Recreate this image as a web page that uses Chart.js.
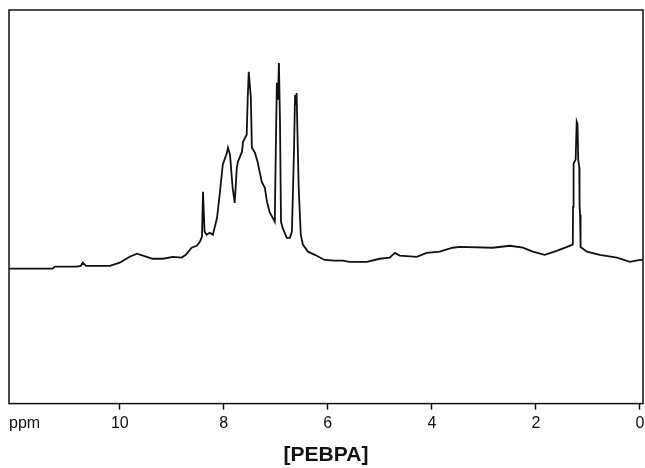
<!DOCTYPE html>
<html>
<head>
<meta charset="utf-8">
<script src="https://cdn.jsdelivr.net/npm/chart.js@4"></script>
<style>
  html, body { margin: 0; padding: 0; background: #fff; }
  #wrap { width: 645px; height: 468px; }
</style>
</head>
<body>
<div id="wrap"><canvas id="spectrum"></canvas></div>
<script>
// Chemical shift (ppm) from left to right
const shiftPpm = [
  12.13, 11.29, 11.25, 10.83, 10.75, 10.71, 10.65, 10.19, 10.0, 9.81,
  9.67, 9.48, 9.37, 9.17, 8.98, 8.81, 8.73, 8.62, 8.52, 8.46,
  8.42, 8.40, 8.37, 8.33, 8.27, 8.21, 8.13, 8.08, 8.02, 7.94,
  7.92, 7.88, 7.85, 7.83, 7.79, 7.75, 7.73, 7.65, 7.63, 7.56,
  7.54, 7.52, 7.48, 7.46, 7.40, 7.35, 7.27, 7.21, 7.17, 7.12,
  7.06, 7.02, 7.00, 6.98, 6.96, 6.94, 6.92, 6.90, 6.87, 6.79,
  6.73, 6.69, 6.65, 6.63, 6.62, 6.60, 6.58, 6.56, 6.52, 6.48,
  6.38, 6.25, 6.06, 5.87, 5.71, 5.58, 5.25, 5.00, 4.81, 4.71,
  4.62, 4.29, 4.10, 3.85, 3.60, 3.46, 2.83, 2.50, 2.25, 2.06,
  1.83, 1.60, 1.40, 1.29, 1.285, 1.275, 1.235, 1.215, 1.20, 1.185,
  1.165, 1.16, 1.15, 1.14, 1.02, 0.77, 0.44, 0.19, 0.00, -0.06
];

// Relative intensity (% of plot height)
const intensity = [
  34.3, 34.3, 34.8, 34.8, 35.0, 35.8, 35.0, 35.0, 35.8, 37.3,
  38.1, 37.3, 36.8, 36.8, 37.3, 37.1, 37.8, 39.6, 40.1, 41.1,
  42.4, 53.8, 43.7, 42.9, 43.4, 42.9, 47.2, 53.0, 60.7, 63.7,
  65.0, 63.2, 58.1, 54.8, 51.0, 59.9, 61.4, 64.0, 66.5, 68.3,
  77.7, 84.3, 77.7, 65.0, 63.7, 61.4, 56.3, 54.8, 51.3, 48.7,
  47.2, 46.2, 64.5, 81.5, 77.2, 86.5, 72.1, 46.2, 44.7, 42.1,
  42.1, 43.7, 64.5, 78.4, 75.9, 78.9, 66.5, 54.8, 42.9, 40.4,
  38.6, 37.8, 36.5, 36.3, 36.3, 36.0, 36.0, 36.8, 37.1, 38.3,
  37.6, 37.3, 38.3, 38.6, 39.6, 39.8, 39.6, 40.1, 39.6, 38.6,
  37.8, 38.8, 39.8, 40.4, 50.0, 61.0, 62.0, 71.6, 71.0, 62.0,
  60.0, 50.5, 48.0, 39.8, 38.6, 37.8, 37.1, 36.0, 36.5, 36.5
];

// Tick positions on the shift axis; the first one only carries the unit
const tickValues = [11.83, 10, 8, 6, 4, 2, 0];
const tickLabels = ['ppm', '10', '8', '6', '4', '2', '0'];

const chartTitle = '[PEBPA]';

const points = shiftPpm.map((x, i) => ({ x, y: intensity[i] }));

// draw the closed box around the plot area
const frame = {
  id: 'frame',
  afterDraw(chart) {
    const { ctx, chartArea: a } = chart;
    ctx.save();
    ctx.strokeStyle = '#111';
    ctx.lineWidth = 1.5;
    ctx.strokeRect(a.left, a.top, a.right - a.left, a.bottom - a.top);
    ctx.restore();
  },
};

const fontFamily = '"Liberation Sans", Arial, sans-serif';

new Chart(document.getElementById('spectrum'), {
  type: 'line',
  data: {
    datasets: [{
      data: points,
      borderColor: '#111',
      borderWidth: 1.8,
      pointRadius: 0,
      tension: 0,
      fill: false,
    }],
  },
  options: {
    responsive: true,
    maintainAspectRatio: false,
    animation: false,
    layout: { padding: { left: 9, right: 2, top: 10, bottom: 0 } },
    plugins: {
      legend: { display: false },
      tooltip: { enabled: false },
      title: {
        display: true,
        position: 'bottom',
        text: chartTitle,
        color: '#111',
        font: { family: fontFamily, size: 21, weight: 'bold' },
        padding: { top: 6, bottom: 0 },
      },
    },
    scales: {
      x: {
        type: 'linear',
        reverse: true,
        min: -0.06,
        max: 12.13,
        afterBuildTicks: (axis) => {
          axis.ticks = tickValues.map((v) => ({ value: v }));
        },
        // end labels may hang over the frame, keep the plot full width
        afterFit: (axis) => {
          axis.paddingLeft = 0;
          axis.paddingRight = 0;
        },
        ticks: {
          autoSkip: false,
          maxRotation: 0,
          color: '#111',
          padding: 4,
          font: { family: fontFamily, size: 16 },
          callback: (value) => tickLabels[tickValues.indexOf(value)],
        },
        grid: {
          drawOnChartArea: false,
          drawTicks: true,
          tickLength: 6,
          tickWidth: 1.5,
          tickColor: (c) => (c.tick && c.tick.value > 11 ? 'rgba(0,0,0,0)' : '#111'),
        },
        border: { display: false },
      },
      y: {
        display: false,
        min: 0,
        max: 100,
      },
    },
  },
  plugins: [frame],
});
</script>
</body>
</html>
